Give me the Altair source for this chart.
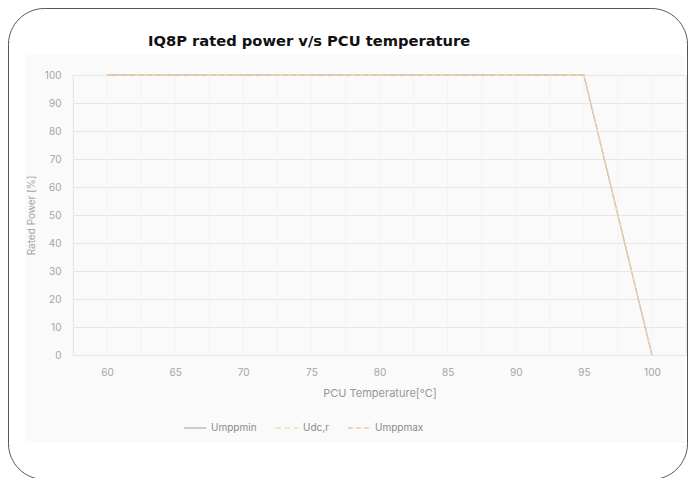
import altair as alt
import pandas as pd

temps = [60, 95, 100]
power = [100, 100, 0]
series = ["Umppmin", "Udc,r", "Umppmax"]
colors = ["#b4bccb", "#dfe6a6", "#f6c39e"]
dashes = [[1, 0], [5, 4], [5, 3]]
x_ticks = [60, 65, 70, 75, 80, 85, 90, 95, 100]
y_ticks = [0, 10, 20, 30, 40, 50, 60, 70, 80, 90, 100]
grid_x = [57.5, 60, 62.5, 65, 67.5, 70, 72.5, 75, 77.5, 80, 82.5, 85, 87.5, 90, 92.5, 95, 97.5, 100, 102.5]

rows = []
for s in series:
    for t, p in zip(temps, power):
        rows.append({"series": s, "temp": t, "power": p})
df = pd.DataFrame(rows)
one = pd.DataFrame({"a": [0]})
vgrid_df = pd.DataFrame({"temp": grid_x})

FONT = "Inter"

x_scale = alt.Scale(domain=[57.5, 102.5], nice=False, zero=False)
x_axis = alt.Axis(
    values=x_ticks,
    title="PCU Temperature[°C]",
    titleColor="#9a9a9a",
    titleFont=FONT,
    titleFontSize=11,
    titleFontWeight="normal",
    titlePadding=10,
    labelColor="#a8a8a8",
    labelFont=FONT,
    labelFontSize=10,
    labelPadding=12,
    grid=False,
    domain=False,
    ticks=False,
)

bg = alt.Chart(one).mark_rect(fill="#000000", fillOpacity=0.018, clip=False).encode(
    x=alt.value(-48), x2=alt.value(612), y=alt.value(-20), y2=alt.value(368)
)

border = alt.Chart(one).mark_rect(
    fillOpacity=0, stroke="#555555", strokeWidth=1, cornerRadius=36, clip=False
).encode(
    x=alt.value(-64.5), x2=alt.value(614.5), y=alt.value(-66.5), y2=alt.value(404.5)
)

y_enc = alt.Y(
    "power:Q",
    scale=alt.Scale(domain=[0, 100], nice=False),
    axis=alt.Axis(
        values=y_ticks,
        title="Rated Power [%]",
        titleColor="#a8a8a8",
        titleFont=FONT,
        titleFontSize=10,
        titleFontWeight="normal",
        titlePadding=8,
        labelColor="#a8a8a8",
        labelFont=FONT,
        labelFontSize=10,
        labelPadding=12,
        gridColor="#ebebeb",
        domain=False,
        ticks=False,
    ),
)

vgrid = alt.Chart(vgrid_df).mark_rule(color="#f3f3f3", strokeWidth=1).encode(
    x=alt.X("temp:Q", scale=x_scale, axis=x_axis)
)

lines = alt.Chart(df).mark_line(strokeWidth=1.3).encode(
    x=alt.X("temp:Q", scale=x_scale, axis=x_axis),
    y=y_enc,
    color=alt.Color(
        "series:N",
        scale=alt.Scale(domain=series, range=colors),
        legend=alt.Legend(
            title=None,
            orient="none",
            legendX=110,
            legendY=341,
            direction="horizontal",
            symbolType="stroke",
            symbolSize=500,
            symbolStrokeWidth=1.3,
            labelColor="#8a8a8a",
            labelFont=FONT,
            labelFontSize=10,
            columnPadding=16,
        ),
    ),
    strokeDash=alt.StrokeDash(
        "series:N",
        scale=alt.Scale(domain=series, range=dashes),
        legend=None,
    ),
    order=alt.Order("series:N", sort="ascending"),
)

title = alt.Chart(one).mark_text(
    text="IQ8P rated power v/s PCU temperature",
    align="left",
    baseline="middle",
    font="DejaVu Sans",
    fontSize=14.7,
    fontWeight="bold",
    color="#111111",
    clip=False,
).encode(x=alt.value(75), y=alt.value(-33))

chart = alt.layer(bg, border, vgrid, lines, title).properties(
    width=613,
    height=280,
    autosize=alt.AutoSizeParams(type="none"),
    padding={"left": 65, "top": 67, "right": 2, "bottom": 123},
).configure_view(stroke=None).configure(background="white")

chart.save("out.html", embed_options={"renderer": "svg", "actions": False})
